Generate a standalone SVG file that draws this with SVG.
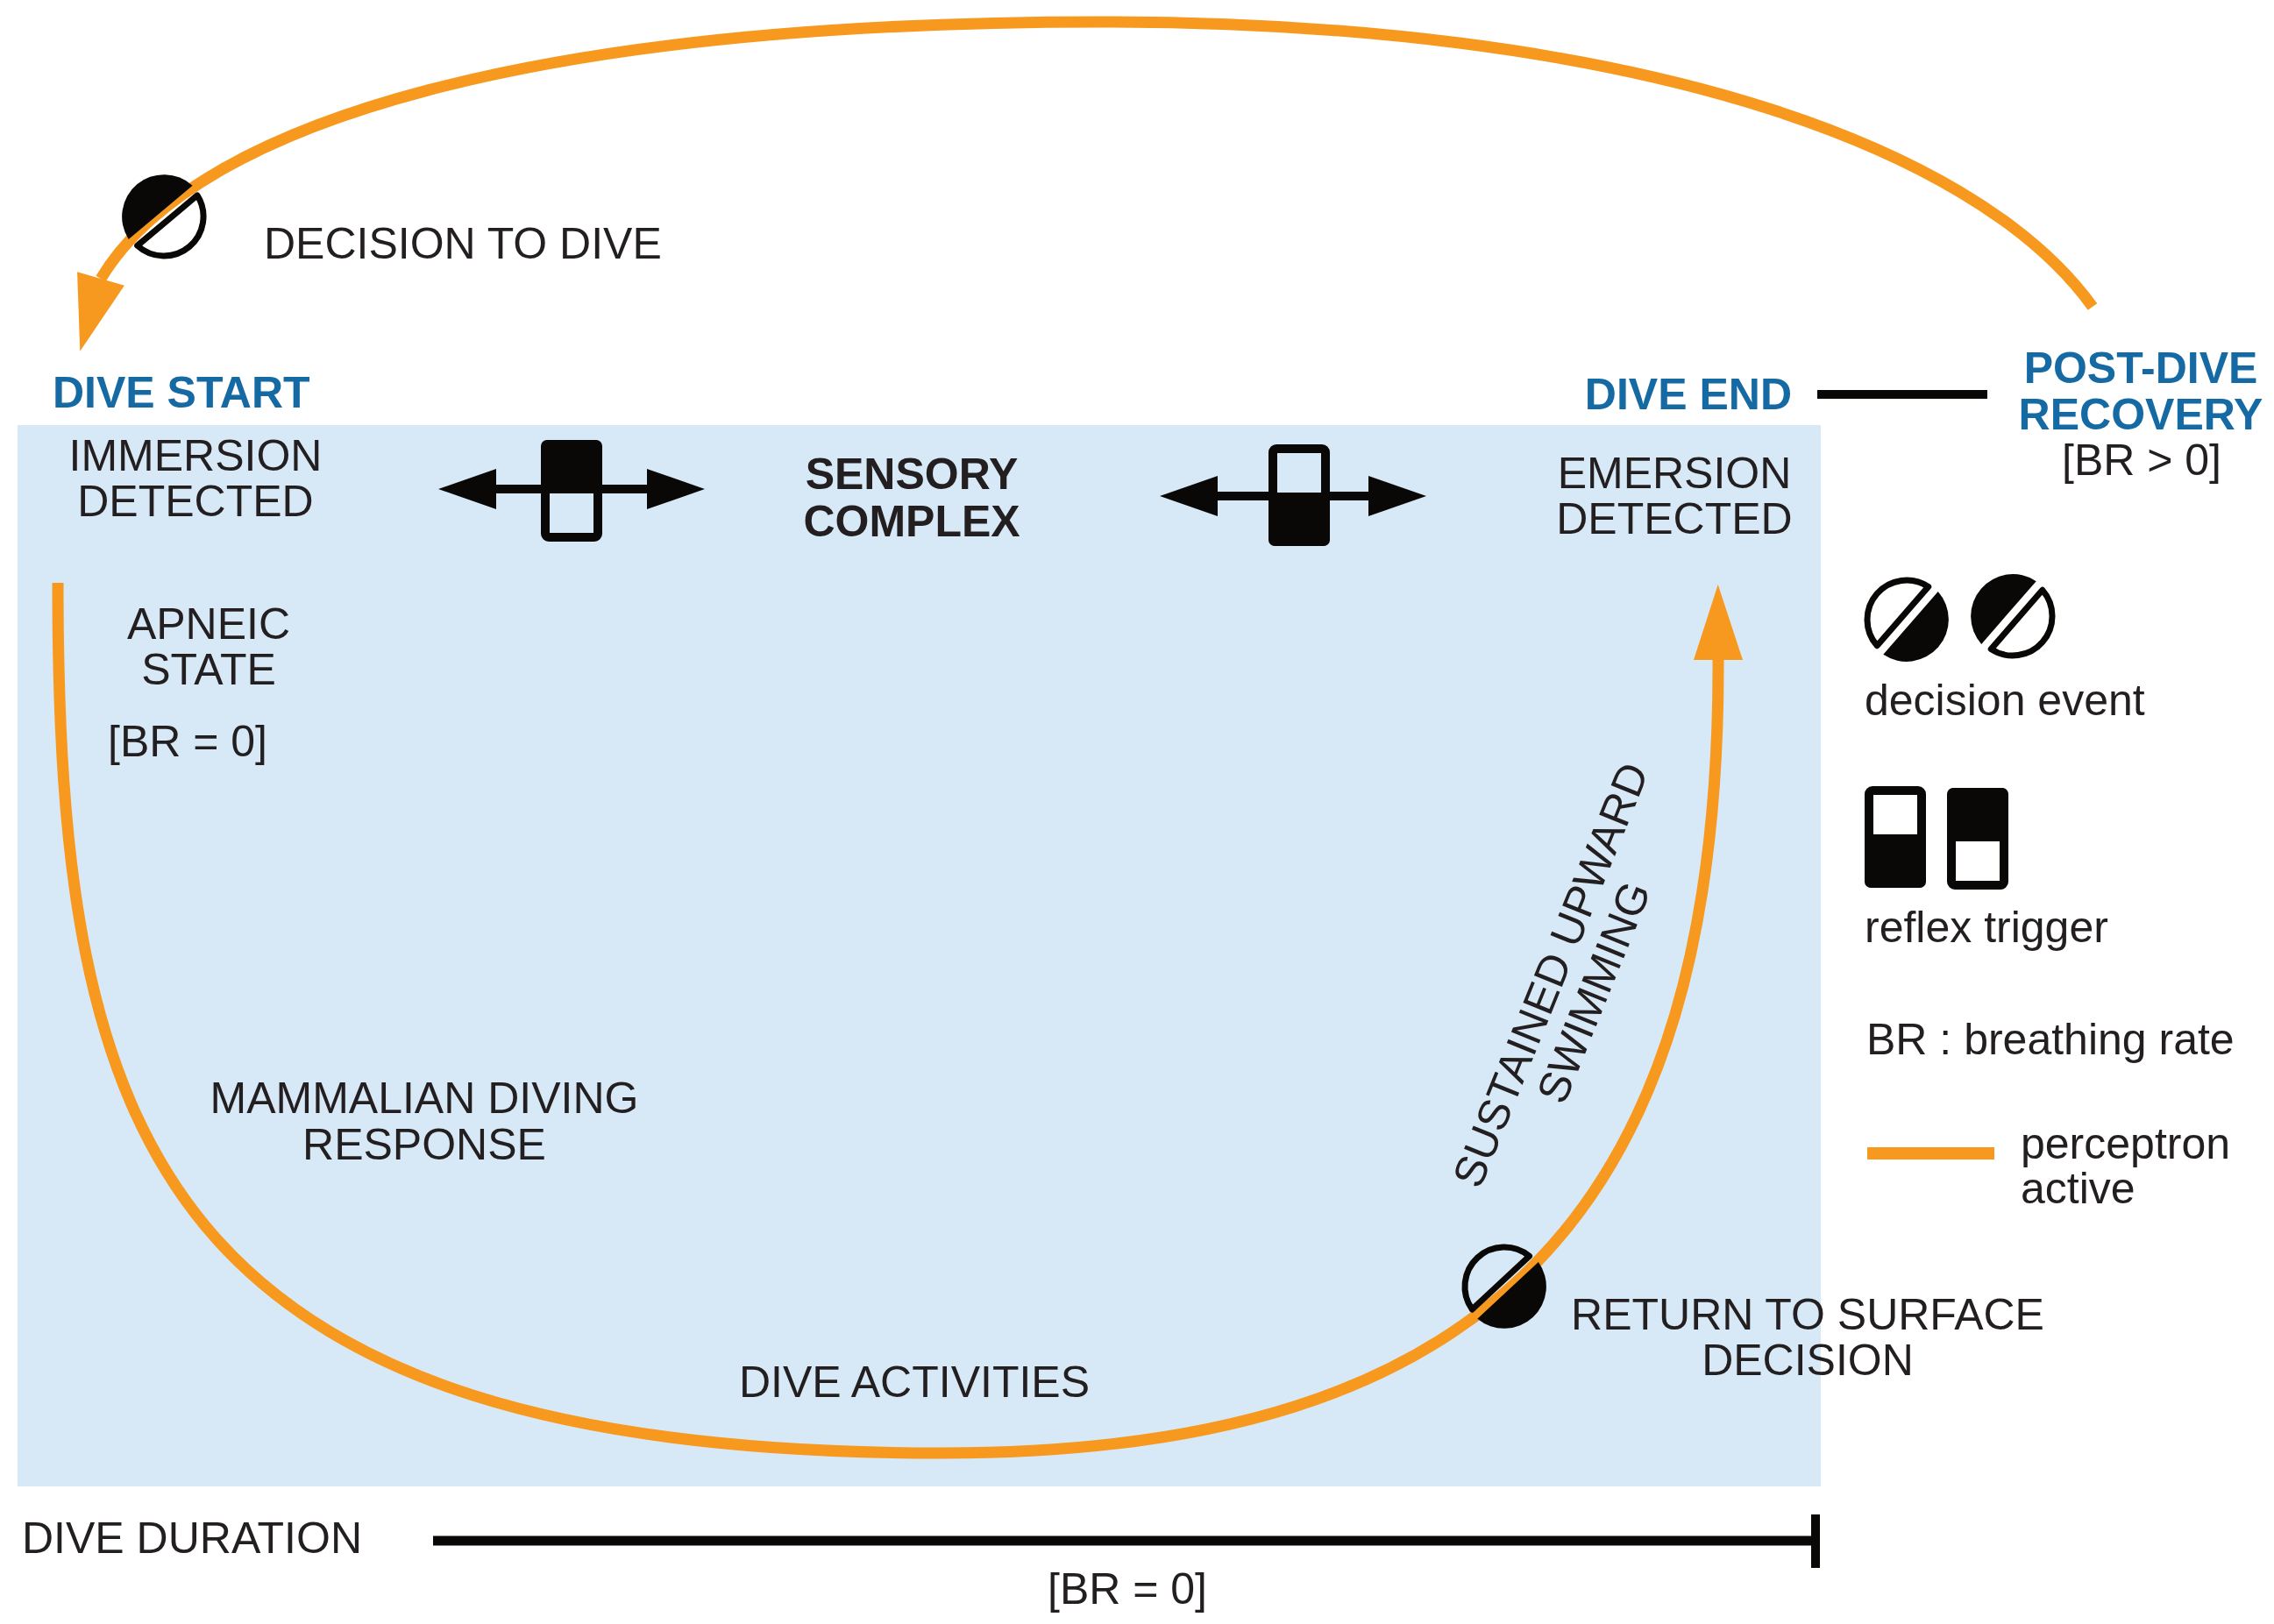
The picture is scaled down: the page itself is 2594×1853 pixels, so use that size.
<svg xmlns="http://www.w3.org/2000/svg" xmlns:xlink="http://www.w3.org/1999/xlink" width="2594" height="1853" viewBox="0 0 2594 1853">
<style>
text{font-family:"Liberation Sans",Arial,sans-serif;font-size:50px;fill:#231f20}
.b{font-weight:bold}
.blue{font-weight:bold;fill:#156aa3}
.m{text-anchor:middle}
.e{text-anchor:end}
.orange{fill:none;stroke:#f7991f;stroke-width:13}
.blk{stroke:#0a0806;fill:none}
</style>
<defs>
<marker id="ah" markerUnits="userSpaceOnUse" markerWidth="90" markerHeight="60" refX="0" refY="0" viewBox="0 -30 90 60" orient="auto" overflow="visible">
<path d="M0,-28 L86,0 L0,28 Z" fill="#f7991f"/>
</marker>
<marker id="ah2" markerUnits="userSpaceOnUse" markerWidth="90" markerHeight="60" refX="0" refY="0" viewBox="0 -30 90 60" orient="106" overflow="visible">
<path d="M0,-28 L86,0 L0,28 Z" fill="#f7991f"/>
</marker>
<g id="dec">
<path d="M -6 -44.6 A 45 45 0 0 0 -6 44.6 Z" stroke="#0a0806" stroke-width="7" stroke-linejoin="round"/>
<path d="M 6 -47.6 A 48 48 0 0 1 6 47.6 Z" fill="#0a0806"/>
</g>
<g id="rf">
<rect x="-30" y="-53" width="60" height="106" rx="4" stroke="#0a0806" stroke-width="10"/>
<rect x="-35" y="-58" width="70" height="61" rx="7" fill="#0a0806"/>
</g>
<g id="dbl">
<rect x="-90" y="-5" width="180" height="10" fill="#0a0806"/>
<path d="M-152,0 L-86,-23 L-86,23 Z M152,0 L86,-23 L86,23 Z" fill="#0a0806"/>
</g>
</defs>

<rect id="dive-zone" x="20" y="485" width="2057" height="1211" fill="#d7e9f6"/>

<g id="connectors">
<path class="orange" marker-end="url(#ah2)" d="M 2387 350 C 2250 160, 1850 25, 1257 25 C 620 25, 225 135, 115 318"/>
<path class="orange" marker-end="url(#ah)" d="M 66 665 C 66 1300, 180 1658, 1075 1658 C 1700 1658, 1962 1380, 1960 753"/>
<line class="blk" x1="2073" y1="450" x2="2267" y2="450" stroke-width="10"/>
<line class="blk" x1="494" y1="1758" x2="2074" y2="1758" stroke-width="11"/>
<line class="blk" x1="2071" y1="1728" x2="2071" y2="1789" stroke-width="10"/>
</g>

<g id="decision-to-dive">
<use xlink:href="#dec" href="#dec" fill="#ffffff" transform="translate(187,247) rotate(230)"/>
<text x="301" y="295">DECISION TO DIVE</text>
</g>

<g id="dive-start"><text class="blue" x="60" y="465">DIVE START</text></g>

<g id="immersion">
<text class="m" x="223" y="537">IMMERSION</text>
<text class="m" x="223" y="589">DETECTED</text>
</g>

<g id="immersion-trigger">
<use xlink:href="#dbl" href="#dbl" transform="translate(652,558)"/>
<use xlink:href="#rf" href="#rf" fill="#d7e9f6" transform="translate(652,560)"/>
</g>

<g id="sensory-complex">
<text class="b m" x="1040" y="558">SENSORY</text>
<text class="b m" x="1040" y="612">COMPLEX</text>
</g>

<g id="emersion-trigger">
<use xlink:href="#dbl" href="#dbl" transform="translate(1475,566)"/>
<use xlink:href="#rf" href="#rf" fill="#d7e9f6" transform="translate(1482,565) rotate(180)"/>
</g>

<g id="emersion">
<text class="m" x="1910" y="557">EMERSION</text>
<text class="m" x="1910" y="609">DETECTED</text>
</g>

<g id="dive-end"><text class="blue e" x="2044" y="467">DIVE END</text></g>

<g id="post-dive">
<text class="blue m" x="2442" y="437">POST-DIVE</text>
<text class="blue m" x="2442" y="490">RECOVERY</text>
<text class="m" x="2443" y="542">[BR &gt; 0]</text>
</g>

<g id="apneic">
<text class="m" x="238" y="729">APNEIC</text>
<text class="m" x="238" y="781">STATE</text>
<text class="m" x="214" y="863">[BR = 0]</text>
</g>

<g id="mammalian">
<text class="m" x="484" y="1270">MAMMALIAN DIVING</text>
<text class="m" x="484" y="1323">RESPONSE</text>
</g>

<g id="dive-activities"><text class="m" x="1043" y="1594">DIVE ACTIVITIES</text></g>

<g id="upward" transform="translate(1768,1112) rotate(-68)">
<text class="m" x="0" y="18">SUSTAINED UPWARD</text>
<text class="m" x="0" y="71">SWIMMING</text>
</g>

<g id="return-decision">
<use xlink:href="#dec" href="#dec" fill="#d7e9f6" transform="translate(1716,1468) rotate(47)"/>
<text class="m" x="2062" y="1517">RETURN TO SURFACE</text>
<text class="m" x="2062" y="1569">DECISION</text>
</g>

<g id="dive-duration">
<text x="25" y="1772">DIVE DURATION</text>
<text class="m" x="1286" y="1830">[BR = 0]</text>
</g>

<g id="legend">
<use xlink:href="#dec" href="#dec" fill="#ffffff" transform="translate(2175,707) rotate(41)"/>
<use xlink:href="#dec" href="#dec" fill="#ffffff" transform="translate(2296,703) rotate(221)"/>
<text x="2127" y="816">decision event</text>
<use xlink:href="#rf" href="#rf" fill="#ffffff" transform="translate(2162,955) rotate(180)"/>
<use xlink:href="#rf" href="#rf" fill="#ffffff" transform="translate(2256,957)"/>
<text x="2127" y="1075">reflex trigger</text>
<text x="2129" y="1203">BR : breathing rate</text>
<line x1="2130" y1="1316" x2="2275" y2="1316" stroke="#f7991f" stroke-width="14"/>
<text x="2305" y="1322">perceptron</text>
<text x="2305" y="1373">active</text>
</g>
</svg>
